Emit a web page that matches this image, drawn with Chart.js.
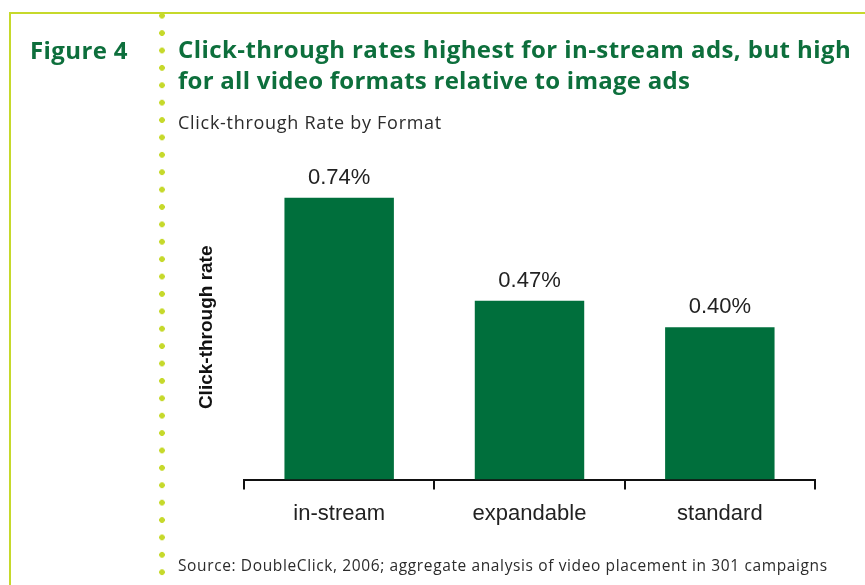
<!DOCTYPE html>
<html>
<head>
<meta charset="utf-8">
<script src="https://cdn.jsdelivr.net/npm/chart.js@4/dist/chart.umd.min.js"></script>
<style>
  html, body { margin: 0; padding: 0; background: #fff; }
  #page { position: relative; width: 865px; height: 585px; overflow: hidden; }
  #chart { position: absolute; left: 0; top: 0; }
  .frame-top { position: absolute; left: 9px; top: 12px; width: 860px; height: 2px; background: #c6d92b; }
  .frame-left { position: absolute; left: 9px; top: 12px; width: 2px; height: 580px; background: #c6d92b; }
  .dots { position: absolute; left: 159px; top: 7px; width: 6px; height: 580px;
          background: radial-gradient(circle, #c6d92b 2.6px, transparent 3.1px) 0 0 / 6px 17.4px repeat-y; }
  .txt { position: absolute; white-space: nowrap; }
  .fig { left: 30px; top: 33px; font: 700 24px "Open Sans", sans-serif; color: #0d6f3c; }
  .title { left: 178px; top: 33px; font: 700 24px "Open Sans", sans-serif; color: #0d6f3c; line-height: 31px; }
  .sub { left: 178px; top: 110px; font: 400 18px "Open Sans", sans-serif; color: #2b2b2b; }
  .src { left: 178px; top: 554px; font: 400 15.5px "Open Sans", sans-serif; color: #2b2b2b; }
</style>
</head>
<body>
<div id="page">
  <canvas id="chart" width="865" height="585"></canvas>
  <div class="frame-top"></div>
  <div class="frame-left"></div>
  <div class="dots"></div>
  <div class="txt fig" data-w="98">Figure 4</div>
  <div class="txt title"><span data-w="673">Click-through rates highest for in-stream ads, but high</span><br><span data-w="512">for all video formats relative to image ads</span></div>
  <div class="txt sub" data-w="264">Click-through Rate by Format</div>
  <div class="txt src" data-w="650">Source: DoubleClick, 2006; aggregate analysis of video placement in 301 campaigns</div>
</div>
<script>
// Click-through rate (%) per ad format
const formats = ['in-stream', 'expandable', 'standard'];
const ctrValues = [0.74, 0.47, 0.40];
const ctrLabels = ['0.74%', '0.47%', '0.40%'];

// stretch the header/footer text to its set width with letter-spacing
document.querySelectorAll('[data-w]').forEach(el => {
  const want = +el.dataset.w;
  const r = document.createRange();
  r.selectNodeContents(el);
  const have = r.getBoundingClientRect().width;
  const n = el.textContent.length;
  el.style.letterSpacing = ((want - have) / n).toFixed(2) + 'px';
});

// writes the percentage above each bar
const barValueLabels = {
  id: 'barValueLabels',
  afterDatasetsDraw(chart) {
    const ctx = chart.ctx;
    const bars = chart.getDatasetMeta(0).data;
    ctx.save();
    ctx.font = '22px "Liberation Sans", Arial, sans-serif';
    ctx.fillStyle = '#222';
    ctx.textAlign = 'center';
    ctx.textBaseline = 'alphabetic';
    bars.forEach((bar, i) => {
      ctx.fillText(ctrLabels[i], bar.x, bar.y - 14);
    });
    ctx.restore();
  }
};

new Chart(document.getElementById('chart'), {
  type: 'bar',
  data: {
    labels: formats,
    datasets: [{
      data: ctrValues,
      backgroundColor: '#006f3c',
      categoryPercentage: 1,
      barPercentage: 0.575
    }]
  },
  options: {
    responsive: false,
    animation: false,
    layout: { padding: { left: 191.6, right: 50, top: 175, bottom: 47 } },
    plugins: {
      legend: { display: false },
      tooltip: { enabled: false }
    },
    scales: {
      x: {
        grid: {
          offset: true,
          drawOnChartArea: false,
          drawTicks: true,
          tickLength: 10,
          color: '#111',
          lineWidth: 2
        },
        border: { display: true, color: '#111', width: 2 },
        ticks: {
          color: '#222',
          padding: 11,
          font: { family: '"Liberation Sans", Arial, sans-serif', size: 22 }
        }
      },
      y: {
        min: 0,
        max: 0.8,
        grid: { display: false },
        border: { display: false },
        ticks: { display: false },
        title: {
          display: true,
          text: 'Click-through rate',
          color: '#111',
          padding: { top: 4, bottom: 17.6 },
          font: { family: '"Liberation Sans", Arial, sans-serif', size: 19, weight: 'bold' }
        }
      }
    }
  },
  plugins: [barValueLabels]
});
</script>
</body>
</html>
